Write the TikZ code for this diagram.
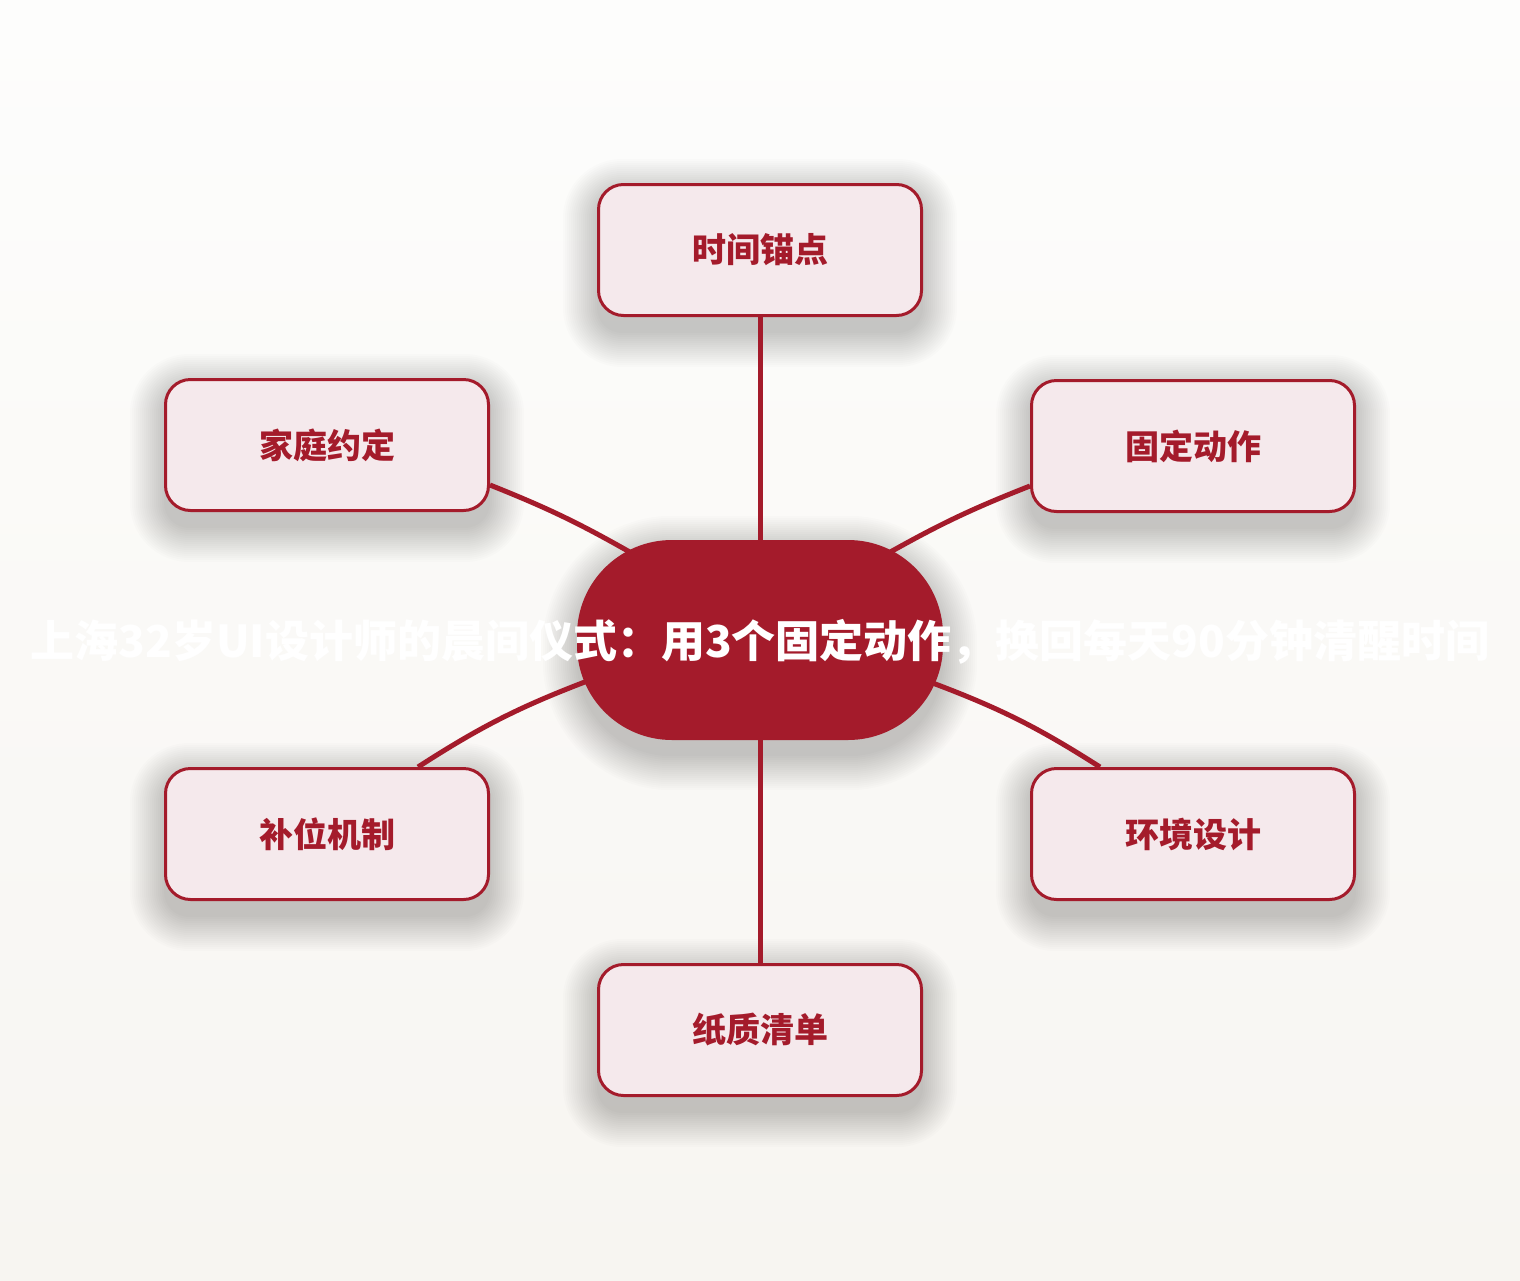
\documentclass[tikz,border=0pt]{standalone}
\usepackage{fontspec}
\newfontfamily\cjk{Noto Sans CJK SC}
\definecolor{deepred}{HTML}{A41B2B}
\definecolor{softpink}{HTML}{F5E9EC}
\definecolor{papertop}{HTML}{FDFDFC}
\definecolor{paperbot}{HTML}{F7F5F1}
\pgfdeclarelayer{backdrop}
\pgfdeclarelayer{shade}
\pgfdeclarelayer{links}
\pgfsetlayers{backdrop,shade,links,main}

% soft shadow under a node: #1 node name, #2 corner radius
\newcommand\castshadow[2]{%
    \foreach \g in {0,2,...,34}{
        \pgfmathsetmacro\rr{#2+\g}
        \fill[black, opacity=0.01, rounded corners=\rr pt]
            ([xshift=-\g pt, yshift=-16pt-\g pt]#1.south west) rectangle
            ([xshift=\g pt, yshift=-10pt+\g pt]#1.north east);
    }}

\begin{document}
\begin{tikzpicture}[x=1pt, y=-1pt,
    topic/.style={draw=deepred, line width=3pt, fill=softpink, rounded corners=25pt,
        minimum width=323pt, minimum height=131pt, text=deepred,
        font=\cjk\bfseries\fontsize{34}{40}\selectfont},
    hubbox/.style={fill=deepred, rounded corners=95pt, minimum width=366pt, minimum height=200pt},
    headline/.style={text=white, font=\cjk\bfseries\fontsize{44}{52}\selectfont},
    link/.style={draw=deepred, line width=5pt}]

        % Setup the page
        \useasboundingbox (0,0) rectangle (1520,1280);
        \begin{pgfonlayer}{backdrop}
            \fill[top color=papertop, bottom color=paperbot] (0,0) rectangle (1520,1280);
        \end{pgfonlayer}

        % Central topic
        \node[hubbox] (hub) at (760,640) {};
        \node[headline] (title) at (760,642) {上海32岁UI设计师的晨间仪式：用3个固定动作，换回每天90分钟清醒时间};

        % Branches
        \node[topic] (anchor) at (760,250) {时间锚点};
        \node[topic] (pact) at (327,445) {家庭约定};
        \node[topic] (moves) at (1193,446) {固定动作};
        \node[topic] (backup) at (327,834) {补位机制};
        \node[topic] (setting) at (1193,834) {环境设计};
        \node[topic] (checklist) at (760,1030) {纸质清单};

        % Shadows
        \begin{pgfonlayer}{shade}
            \castshadow{hub}{95}
            \castshadow{anchor}{25}
            \castshadow{pact}{25}
            \castshadow{moves}{25}
            \castshadow{backup}{25}
            \castshadow{setting}{25}
            \castshadow{checklist}{25}
        \end{pgfonlayer}

        % Connectors, under the nodes
        \begin{pgfonlayer}{links}
            \draw[link] (anchor.south) -- (hub.north);
            \draw[link] (hub.south) -- (checklist.north);
            \draw[link] ([yshift=-40pt]pact.east) to[bend left=4] ([xshift=-125pt,yshift=85pt]hub.center);
            \draw[link] ([yshift=-40pt]moves.west) to[bend right=4] ([xshift=125pt,yshift=85pt]hub.center);
            \draw[link] ([xshift=91pt]backup.north) to[bend left=6] ([xshift=-170pt,yshift=-40pt]hub.center);
            \draw[link] ([xshift=-93pt]setting.north) to[bend right=6] ([xshift=170pt,yshift=-42pt]hub.center);
        \end{pgfonlayer}

    \end{tikzpicture}
\end{document}
